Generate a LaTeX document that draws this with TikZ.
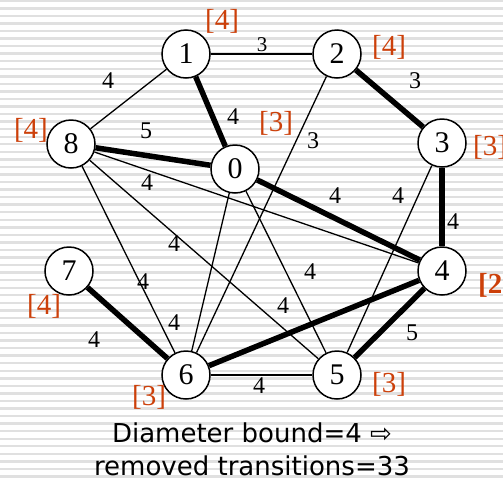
\documentclass[tikz,border=0pt]{standalone}
\usepackage{fontspec}
\setmainfont{Liberation Serif}
\newfontfamily\capfont{DejaVu Sans}
\definecolor{boundred}{RGB}{204,64,10}
\begin{document}
\begin{tikzpicture}[
    x=1pt, y=-1pt,
    vnode/.style={
        circle, draw=black, line width=1.5pt, fill=white,
        minimum size=48pt, inner sep=0pt,
        font=\fontsize{30}{30}\selectfont
    },
    thinedge/.style={line width=1.3pt},
    thickedge/.style={line width=5.5pt},
    wlabel/.style={inner sep=0pt, font=\fontsize{24}{24}\selectfont},
    blabel/.style={inner sep=0pt, text=boundred, font=\fontsize{29}{29}\selectfont},
]
\useasboundingbox (0,0) rectangle (503,480);
\clip (0,0) rectangle (503,480);

% striped background
\foreach \y in {0.8,8.35,...,480}
    \draw[line width=2.4pt, draw=black!12] (0,\y) -- (503,\y);

% states
\node [vnode] (n1) at (186,54) {1};
\node [vnode] (n2) at (337,54) {2};
\node [vnode] (n3) at (442,143) {3};
\node [vnode] (n8) at (71,144) {8};
\node [vnode] (n0) at (235,169) {0};
\node [vnode] (n4) at (442,271) {4};
\node [vnode] (n7) at (69,271) {7};
\node [vnode] (n6) at (186,375) {6};
\node [vnode] (n5) at (337,375) {5};

% transitions
\draw[thinedge] (n1) -- (n2);
\draw[thinedge] (n1) -- (n8);
\draw[thickedge] (n1) -- (n0);
\draw[thickedge] (n2) -- (n3);
\draw[thinedge] (n2) -- (n6);
\draw[thickedge] (n8) -- (n0);
\draw[thinedge] (n8) -- (n4);
\draw[thinedge] (n8) -- (n5);
\draw[thinedge] (n8) -- (n6);
\draw[thickedge] (n0) -- (n4);
\draw[thinedge] (n0) -- (n6);
\draw[thinedge] (n0) -- (n5);
\draw[thickedge] (n3) -- (n4);
\draw[thinedge] (n3) -- (n5);
\draw[thickedge] (n4) -- (n6);
\draw[thickedge] (n4) -- (n5);
\draw[thickedge] (n7) -- (n6);
\draw[thinedge] (n6) -- (n5);

% weights
\node [wlabel, font=\fontsize{21}{21}\selectfont] (w12) at (262,45) {3};
\node [wlabel] (w18) at (108,81) {4};
\node [wlabel] (w10) at (233,117) {4};
\node [wlabel] (w23) at (415,81) {3};
\node [wlabel] (w26) at (313,141) {3};
\node [wlabel] (w80) at (146,131) {5};
\node [wlabel] (w84) at (147,183) {4};
\node [wlabel] (w04) at (335,196) {4};
\node [wlabel] (w35) at (398,196) {4};
\node [wlabel] (w34) at (453,222) {4};
\node [wlabel] (w85) at (174,244) {4};
\node [wlabel] (w05) at (310,272) {4};
\node [wlabel] (w86) at (143,282) {4};
\node [wlabel] (w46) at (283,306) {4};
\node [wlabel] (w06) at (174,323) {4};
\node [wlabel] (w76) at (94,340) {4};
\node [wlabel] (w45) at (412,333) {5};
\node [wlabel] (w65) at (259,386) {4};

% bounds
\node [blabel] (b1) at (222,21) {[4]};
\node [blabel] (b2) at (389,47) {[4]};
\node [blabel] (b3) at (490,147) {[3]};
\node [blabel] (b8) at (31,130) {[4]};
\node [blabel] (b0) at (276,123) {[3]};
\node [blabel, font=\fontsize{29}{29}\selectfont\bfseries] (b4) at (495,285) {[2]};
\node [blabel] (b7) at (44,306) {[4]};
\node [blabel] (b6) at (149,397) {[3]};
\node [blabel] (b5) at (389,384) {[3]};

% caption
\node [anchor=base, inner sep=0pt, font=\capfont\fontsize{26}{26}\selectfont]
    (cap1) at (252,442) {Diameter bound=4 ⇨};
\node [anchor=base, inner sep=0pt, font=\capfont\fontsize{26}{26}\selectfont]
    (cap2) at (252,475) {removed transitions=33};

\end{tikzpicture}
\end{document}
